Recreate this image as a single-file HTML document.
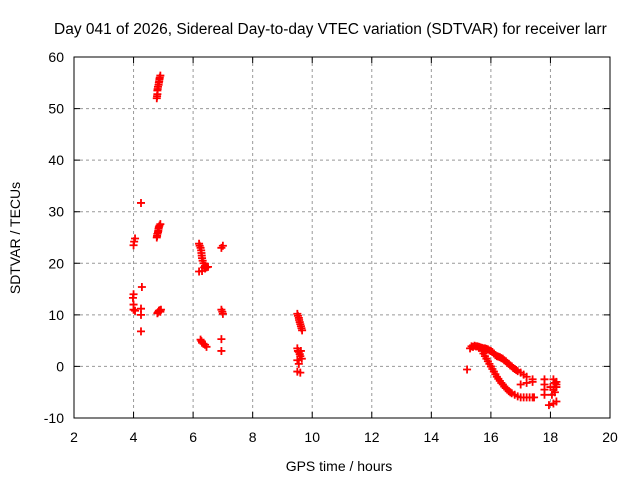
<!DOCTYPE html>
<html><head><meta charset="utf-8"><style>
body{margin:0;background:#fff}
svg text{font-family:"Liberation Sans",sans-serif;font-size:14px;fill:#000}
</style></head><body>
<svg id="c" width="640" height="480">
<text x="54" y="34" style="font-size:15.5px">Day 041 of 2026, Sidereal Day-to-day VTEC variation (SDTVAR) for receiver larr</text>
<text x="339" y="471" text-anchor="middle">GPS time / hours</text>
<text transform="translate(20,238) rotate(-90)" text-anchor="middle">SDTVAR / TECUs</text>
<g id="grid"></g><g id="pts"></g>
<rect x="74" y="57" width="536" height="361" fill="none" stroke="#000"/>
</svg>
<script>
const xTicks=[2,4,6,8,10,12,14,16,18,20];
const yTicks=[-10,0,10,20,30,40,50,60];
const times=[4.78,4.8,4.8,4.82,4.85,4.87,4.9,4.79,4.81,4.84,4.86,4.88,
4.0,4.02,4.05,4.25,4.28,4.0,3.98,4.0,4.0,4.05,4.25,4.25,4.25,
4.78,4.8,4.83,4.85,4.9,4.79,4.82,4.84,4.87,4.8,4.85,4.9,4.92,4.82,4.88,
6.2,6.25,6.28,6.3,6.35,6.4,6.3,6.4,6.5,6.2,6.22,6.27,6.29,6.32,6.37,6.45,
6.95,7.0,6.95,7.0,6.98,6.25,6.3,6.4,6.45,6.28,6.35,6.95,6.95,
9.5,9.55,9.58,9.62,9.66,9.52,9.56,9.6,9.64,9.5,9.55,9.6,9.5,9.55,9.5,9.6,9.62,9.65,9.58,9.52,
15.2,15.3,15.35,15.4,15.45,15.5,15.55,15.6,15.65,15.7,15.75,15.8,15.85,15.9,15.95,16,16.05,16.1,16.15,16.2,16.25,16.3,16.35,16.4,16.45,16.5,16.55,16.6,16.65,16.7,16.75,16.8,16.85,16.9,17,17.1,17.2,
15.7,15.75,15.8,15.85,15.9,15.95,16,16.05,16.1,16.15,16.2,16.25,16.3,16.35,16.4,16.45,16.5,16.55,16.6,16.65,16.7,16.8,16.9,17,17.1,17.2,17.3,17.4,
17.0,17.2,17.4,17.4,17.45,17.8,17.8,17.8,17.8,18.1,18.15,18.2,18.15,18.05,17.95,18.1,18.2,18.2,18.0,18.1,18.2];
const values=[52,52.8,53.5,54.2,55,55.7,56.4,52.4,53.8,54.6,55.3,56,
23.5,24.2,24.8,31.7,15.4,14,13.3,12,11,10.8,11.2,10,6.8,
25,25.7,26.3,27,27.6,25.3,26,26.7,27.3,10.3,10.8,10.6,11,10.5,10.9,
23.8,23,22,21,20,19.5,18.5,19,19.3,18.4,23.4,22.5,21.5,20.5,19.2,19.2,
23,23.4,11,10.2,10.6,5.2,4.6,4.2,3.8,4.9,4.4,5.3,3,
10.2,9.4,8.6,7.8,7.0,9.8,9.0,8.2,7.4,3.5,2.8,2,1.2,0.5,-1,-1.2,3,1.5,2.4,3,
-0.6,3.5,3.9,3.8,4,3.9,3.9,3.8,3.7,3.6,3.5,3.5,3.4,3.3,3.1,3,2.8,2.5,2.2,2,1.9,1.8,1.6,1.5,1.2,1,0.7,0.5,0.2,0,-0.3,-0.5,-0.7,-0.9,-1.2,-1.6,-2,
3,2.5,2,1.5,1,0.5,0,-0.5,-1,-1.5,-2,-2.4,-2.8,-3.2,-3.5,-3.9,-4.2,-4.5,-4.8,-5,-5.2,-5.5,-5.8,-6,-6,-6,-6,-6,
-3.5,-3.2,-2.5,-3,-6,-2.5,-3.5,-4.5,-5.5,-2.5,-3.2,-4,-5,-5.5,-7.5,-7.2,-6.8,-3,-4,-4.5,-3.5];
const X=v=>74+(v-2)*536/18, Y=v=>418-(v+10)*361/70;
const ns='http://www.w3.org/2000/svg';
const g=document.getElementById('grid'), p=document.getElementById('pts'), svg=document.getElementById('c');
function mk(t,a,par){const e=document.createElementNS(ns,t);for(const k in a)e.setAttribute(k,a[k]);par.appendChild(e);return e;}
xTicks.forEach(t=>{const x=X(t);
 if(t>2&&t<20){const l=mk('line',{x1:x,x2:x,y1:57,y2:418,stroke:'#999','stroke-dasharray':'3,3'},g);}
 const k=mk('path',{d:`M${x},418v-6M${x},57v6`,stroke:'#000'},g);
 const s=mk('text',{x:x,y:442,'text-anchor':'middle'},svg);s.textContent=t;});
yTicks.forEach(t=>{const y=Y(t);
 if(t>-10&&t<60){const l=mk('line',{x1:74,x2:610,y1:y,y2:y,stroke:'#999','stroke-dasharray':'3,3'},g);}
 const k=mk('path',{d:`M74,${y}h6M610,${y}h-6`,stroke:'#000'},g);
 const s=mk('text',{x:64,y:y+5,'text-anchor':'end'},svg);s.textContent=t;});
times.forEach((t,i)=>{const x=X(t),y=Y(values[i]);
 const e=mk('path',{d:`M${x-4},${y}h8M${x},${y-4}v8`,stroke:'#f00','stroke-width':1.8},p);
 
 });
</script>
</body></html>
